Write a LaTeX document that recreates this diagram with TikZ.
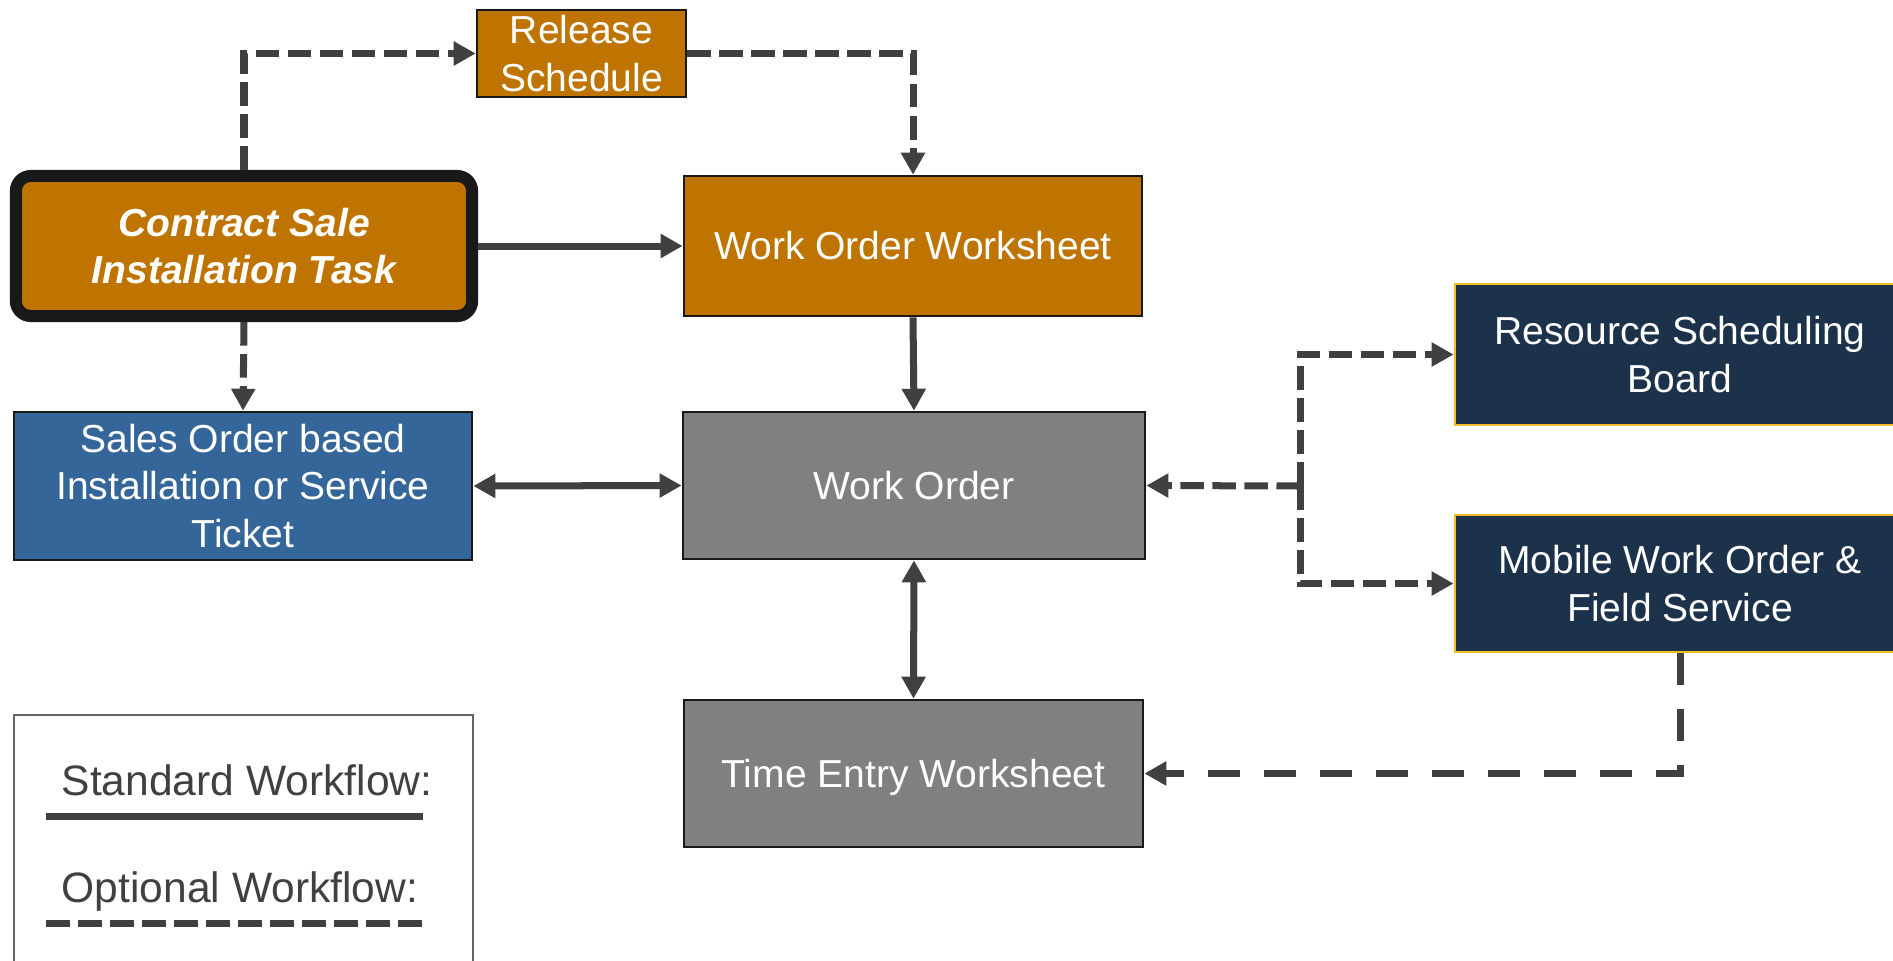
\documentclass[tikz,border=0pt]{standalone}
\usepackage{fontspec}
\setmainfont{Liberation Sans}
\usetikzlibrary{arrows.meta}

\definecolor{taskorange}{RGB}{191,116,0}
\definecolor{ticketblue}{RGB}{52,102,153}
\definecolor{boardnavy}{RGB}{27,50,74}
\definecolor{ordergray}{RGB}{128,128,128}
\definecolor{flowgray}{RGB}{64,64,64}
\definecolor{edgegold}{RGB}{240,190,40}

\begin{document}
\begin{tikzpicture}[
      x=0.01cm,y=-0.01cm,
      box/.style={rectangle,draw=black!90,line width=0.025cm,text=white,align=center,
        font=\fontsize{11.1}{13.5}\selectfont,inner sep=0pt},
      std/.style={-{Triangle[length=0.22cm,width=0.23cm]},line width=0.07cm,flowgray},
      both/.style={{Triangle[length=0.22cm,width=0.23cm]}-{Triangle[length=0.22cm,width=0.23cm]},line width=0.07cm,flowgray},
      opt/.style={std,dash pattern=on 0.235cm off 0.085cm},
      optwide/.style={std,dash pattern=on 0.32cm off 0.24cm},
      legtxt/.style={anchor=base,text=flowgray,font=\fontsize{12.1}{14}\selectfont}
    ]
      \useasboundingbox (0,0) rectangle (1893,960);

      % left column
      \node[box,fill=taskorange,draw=black!90,line width=0.12cm,rounded corners=0.15cm,
        minimum width=4.56cm,minimum height=1.40cm,font=\fontsize{11.1}{13.5}\selectfont\bfseries\itshape]
        (cst) at (244,246) {Contract Sale\\Installation Task};
      \node[box,fill=ticketblue,minimum width=4.58cm,minimum height=1.48cm]
        (sot) at (243,486) {Sales Order based\\Installation or Service\\Ticket};
      \node[box,fill=taskorange,minimum width=2.09cm,minimum height=0.87cm]
        (rel) at (581.5,53.5) {Release\\Schedule};

      % middle column
      \node[box,fill=taskorange,minimum width=4.58cm,minimum height=1.40cm]
        (wow) at (913,246) {Work Order Worksheet};
      \node[box,fill=ordergray,minimum width=4.62cm,minimum height=1.47cm]
        (wo) at (914,485.5) {Work Order};
      \node[box,fill=ordergray,minimum width=4.59cm,minimum height=1.47cm,text depth=0pt]
        (te) at (913.5,773.5) {Time Entry Worksheet};

      % right column
      \node[box,fill=boardnavy,draw=edgegold,minimum width=4.50cm,minimum height=1.41cm]
        (rsb) at (1680,354.5) {Resource Scheduling\\Board};
      \node[box,fill=boardnavy,draw=edgegold,minimum width=4.50cm,minimum height=1.37cm]
        (mob) at (1680,583.5) {Mobile Work Order \&\\Field Service};

      % flows
      \draw[opt] (cst.north) |- (rel.west);
      \draw[opt] (rel.east) -| (wow.north);
      \draw[std] (cst.east) -- (wow.west);
      \draw[opt] (cst.south) -- (sot.north);
      \draw[std] (wow.south) -- (wo.north);
      \draw[both] (sot.east) -- (wo.west);
      \draw[both] (wo.south) -- (te.north);
      \coordinate (jn) at (1300,486);
      \draw[opt] (jn) -- (wo.east);
      \draw[opt] (jn) |- (rsb.west);
      \draw[opt] (jn) |- (mob.west);
      \draw[optwide] (mob.south) |- (te.east);

      % legend
      \draw[draw=black!60,line width=0.02cm] (14,715) rectangle (473,1000);
      \node[legtxt] (lstd) at (247,795) {Standard Workflow:};
      \node[legtxt] (lopt) at (240,902) {Optional Workflow:};
      \coordinate (s1) at (46,816);  \coordinate (s2) at (423,816);
      \coordinate (o1) at (46,923);  \coordinate (o2) at (423,923);
      \draw[line width=0.07cm,flowgray] (s1) -- (s2);
      \draw[line width=0.07cm,flowgray,dash pattern=on 0.235cm off 0.085cm] (o1) -- (o2);
    \end{tikzpicture}
\end{document}
